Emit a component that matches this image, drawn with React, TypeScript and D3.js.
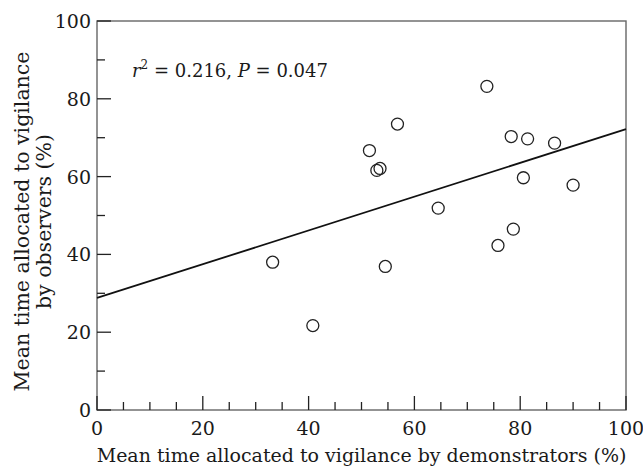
import React, { useEffect, useRef } from 'react';
import * as d3 from 'd3';

// demonstrators (%) vs observers (%)
const demonstrators = [73.7, 56.8, 51.5, 52.9, 53.5, 78.3, 81.4, 86.5, 80.6, 90.0, 64.5, 78.7, 75.8, 54.5, 33.2, 40.8];
const observers = [83.2, 73.5, 66.7, 61.6, 62.1, 70.3, 69.7, 68.6, 59.7, 57.8, 51.9, 46.5, 42.3, 36.9, 38.0, 21.7];
const fitIntercept = 28.8;
const fitSlope = 0.434;
const xTicks = [0, 20, 40, 60, 80, 100];
const yTicks = [0, 20, 40, 60, 80, 100];

const App = () => {
  const svgRef = useRef<SVGSVGElement>(null);

  useEffect(() => {
    const width = 643;
    const height = 469;
    const margin = { top: 21, right: 17, bottom: 59, left: 97 };
    const innerW = width - margin.left - margin.right;
    const innerH = height - margin.top - margin.bottom;
    const font = '"DejaVu Serif", serif';

    const svg = d3.select(svgRef.current);
    svg.selectAll('*').remove();
    const g = svg.append('g').attr('transform', `translate(${margin.left},${margin.top})`);

    const x = d3.scaleLinear().domain([0, 100]).range([0, innerW]);
    const y = d3.scaleLinear().domain([0, 100]).range([innerH, 0]);

    // frame
    g.append('rect')
      .attr('width', innerW).attr('height', innerH)
      .attr('fill', 'none').attr('stroke', '#666').attr('stroke-width', 1.4);

    // minor + major ticks, inward
    d3.range(0, 101, 5).forEach(v => {
      const major = v % 20 === 0;
      g.append('line')
        .attr('x1', x(v)).attr('x2', x(v))
        .attr('y1', innerH).attr('y2', innerH - (major ? 14 : 8))
        .attr('stroke', '#222').attr('stroke-width', 1.3);
    });
    d3.range(0, 101, 10).forEach(v => {
      const major = v % 20 === 0;
      g.append('line')
        .attr('x1', 0).attr('x2', major ? 14 : 8)
        .attr('y1', y(v)).attr('y2', y(v))
        .attr('stroke', '#222').attr('stroke-width', 1.3);
    });

    g.selectAll('text.xt').data(xTicks).enter().append('text')
      .attr('class', 'xt')
      .attr('x', d => x(d)).attr('y', innerH + 25)
      .attr('text-anchor', 'middle')
      .style('font-family', font).style('font-size', '19px').attr('fill', '#1a1a1a')
      .text(d => d);

    g.selectAll('text.yt').data(yTicks).enter().append('text')
      .attr('class', 'yt')
      .attr('x', -6).attr('y', d => y(d) + 7)
      .attr('text-anchor', 'end')
      .style('font-family', font).style('font-size', '19px').attr('fill', '#1a1a1a')
      .text(d => d);

    // regression line
    g.append('line')
      .attr('x1', x(0)).attr('y1', y(fitIntercept))
      .attr('x2', x(100)).attr('y2', y(fitIntercept + fitSlope * 100))
      .attr('stroke', '#111').attr('stroke-width', 1.8);

    // points
    g.selectAll('circle').data(demonstrators).enter().append('circle')
      .attr('cx', d => x(d))
      .attr('cy', (_, i) => y(observers[i]))
      .attr('r', 6)
      .attr('fill', 'white')
      .attr('fill-opacity', 0)
      .attr('stroke', '#222').attr('stroke-width', 1.3);

    // annotation
    const ann = g.append('text')
      .attr('x', 35).attr('y', 56)
      .style('font-family', font).style('font-size', '18px').attr('fill', '#1a1a1a');
    ann.append('tspan').style('font-style', 'italic').text('r');
    ann.append('tspan').attr('dy', -8).style('font-size', '12px').text('2');
    ann.append('tspan').attr('dy', 8).text(' = 0.216, ');
    ann.append('tspan').style('font-style', 'italic').text('P');
    ann.append('tspan').text(' = 0.047');

    // axis titles
    g.append('text')
      .attr('x', innerW / 2).attr('y', innerH + 52)
      .attr('text-anchor', 'middle')
      .style('font-family', font).style('font-size', '19px').attr('fill', '#1a1a1a')
      .text('Mean time allocated to vigilance by demonstrators (%)');

    const yl = svg.append('text')
      .attr('transform', `translate(29,${margin.top + innerH / 2 + 6}) rotate(-90)`)
      .attr('text-anchor', 'middle')
      .style('font-family', font).style('font-size', '20.5px').attr('fill', '#1a1a1a');
    yl.append('tspan').attr('x', 0).attr('y', 0).text('Mean time allocated to vigilance');
    yl.append('tspan').attr('x', 0).attr('y', 22).text('by observers (%)');
  }, []);

  return (
    <svg ref={svgRef} width={643} height={469}
      style={{ position: 'absolute', left: 0, top: 0, background: 'white' }} />
  );
};

export default App;
